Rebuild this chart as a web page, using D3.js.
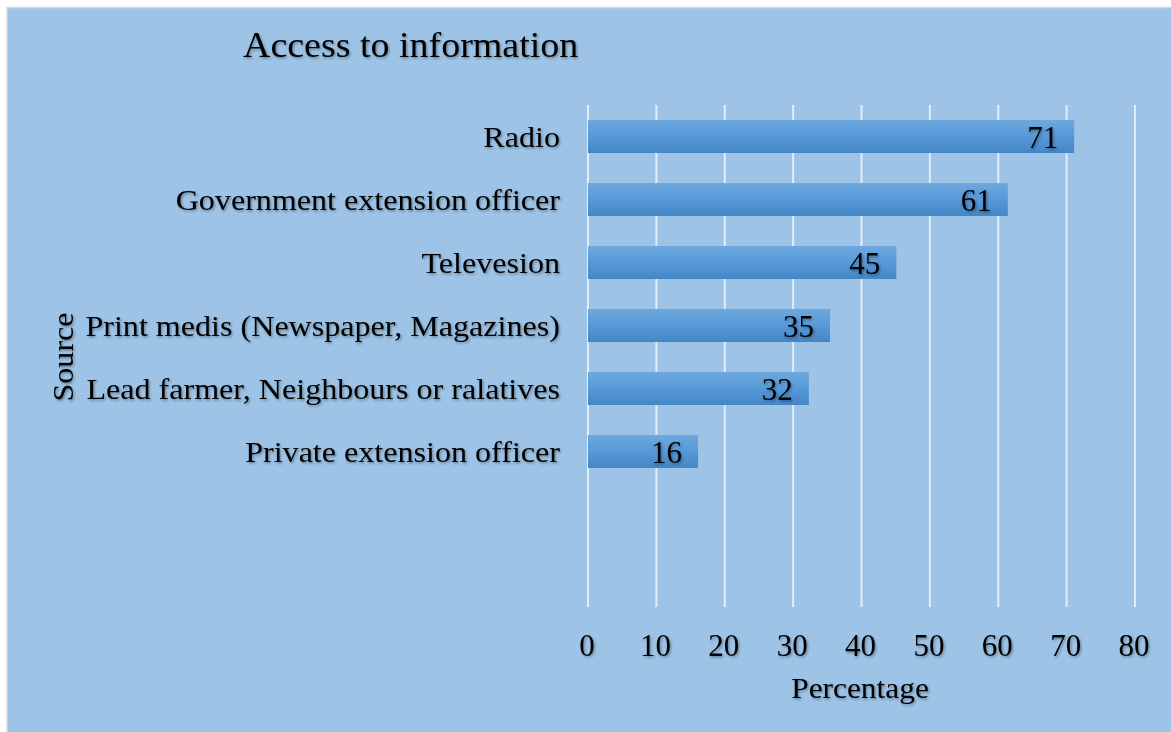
<!DOCTYPE html>
<html><head><meta charset="utf-8">
<script src="https://cdn.jsdelivr.net/npm/d3@7"></script>
<style>html,body{margin:0;padding:0;background:#fff;}svg{display:block;}</style>
</head><body>
<script>
const categories = ["Radio","Government extension officer","Televesion","Print medis (Newspaper, Magazines)","Lead farmer, Neighbours or ralatives","Private extension officer"];
const values = [71.1, 61.4, 45.1, 35.4, 32.3, 16.1];
const xTicks = [0,10,20,30,40,50,60,70,80];
const title = "Access to information";
const xTitle = "Percentage";
const yTitle = "Source";

const W = 1171, H = 732;
const svg = d3.select("body").append("svg").attr("width", W).attr("height", H);
const defs = svg.append("defs");
const grad = defs.append("linearGradient").attr("id","barg").attr("x1",0).attr("y1",0).attr("x2",0).attr("y2",1);
grad.append("stop").attr("offset","0%").attr("stop-color","#6ea8de");
grad.append("stop").attr("offset","50%").attr("stop-color","#5799d8");
grad.append("stop").attr("offset","100%").attr("stop-color","#4586c6");
const f = defs.append("filter").attr("id","sh").attr("x","-10%").attr("y","-20%").attr("width","130%").attr("height","160%");
f.append("feDropShadow").attr("dx",1.2).attr("dy",1.5).attr("stdDeviation",1).attr("flood-color","#000").attr("flood-opacity",0.35);

svg.append("rect").attr("x",7).attr("y",7.5).attr("width",W).attr("height",H).attr("fill","#9dc3e6").attr("stroke","#d9d9d9").attr("stroke-width",1.5);

const font = "'Liberation Serif','Times New Roman',serif";
const x = d3.scaleLinear().domain([0,80]).range([588,1135]);
const step = 63;
const y = d3.scaleBand().domain(categories).range([105, 105 + step*categories.length]).paddingInner(0.476).paddingOuter(0.238);
const gridTop = 105, gridBottom = 607;

// gridlines
svg.append("g").selectAll("line").data(xTicks).join("line")
  .attr("x1",d=>x(d)).attr("x2",d=>x(d)).attr("y1",gridTop).attr("y2",gridBottom)
  .attr("stroke","#e4ecf4").attr("stroke-width",2);

// bars
svg.append("g").selectAll("rect").data(values).join("rect")
  .attr("x",x(0)).attr("y",(d,i)=>y(categories[i]))
  .attr("width",d=>x(d)-x(0)).attr("height",y.bandwidth())
  .attr("fill","url(#barg)");

const txt = svg.append("g").attr("font-family",font).attr("fill","#000").attr("filter","url(#sh)");

// value labels
txt.selectAll("text.v").data(values).join("text").attr("class","v")
  .attr("x",d=>x(d)-16).attr("y",(d,i)=>y(categories[i])+y.bandwidth()/2+11)
  .attr("text-anchor","end").attr("font-size",31).text(d=>d3.format(".0f")(d));

// category labels (horizontally stretched like the reference)
txt.selectAll("text.c").data(categories).join("text").attr("class","c")
  .attr("transform",d=>`translate(560,${y(d)+y.bandwidth()/2+10}) scale(1.107,1)`)
  .attr("text-anchor","end").attr("font-size",29).text(d=>d);

// x tick labels
txt.selectAll("text.t").data(xTicks).join("text").attr("class","t")
  .attr("x",d=>x(d)-1).attr("y",656)
  .attr("text-anchor","middle").attr("font-size",31).text(d=>d);

txt.append("text").attr("transform","translate(860,698) scale(1.046,1)").attr("text-anchor","middle").attr("font-size",30).text(xTitle);
txt.append("text").attr("transform","translate(73,357) rotate(-90) scale(1.07,1)").attr("text-anchor","middle").attr("font-size",30).text(yTitle);
txt.append("text").attr("transform","translate(243,57) scale(1.085,1)").attr("font-size",35).text(title);
</script>
</body></html>
